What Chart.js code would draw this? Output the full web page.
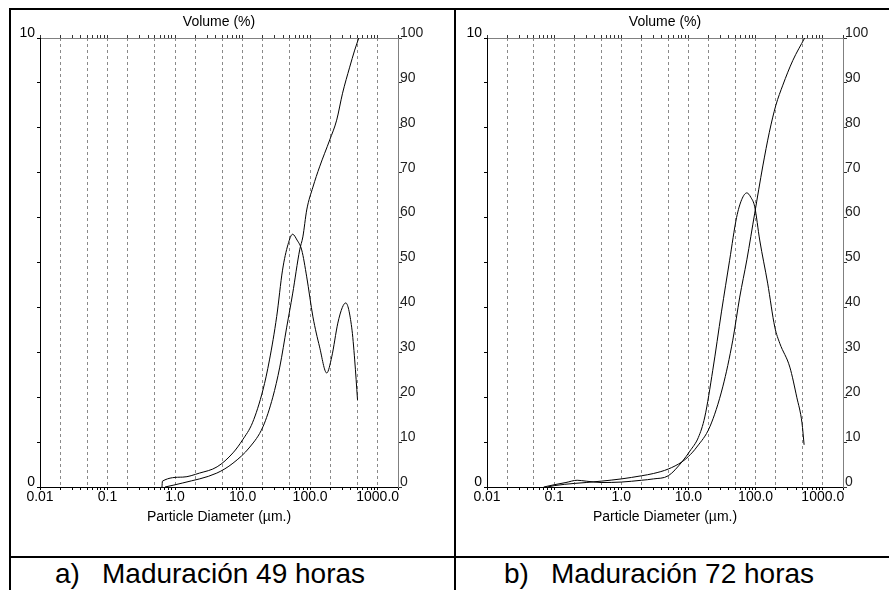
<!DOCTYPE html>
<html>
<head>
<meta charset="utf-8">
<script src="https://cdn.jsdelivr.net/npm/chart.js@4.4.1/dist/chart.umd.min.js"></script>
<style>
  body { margin: 0; width: 889px; height: 590px; overflow: hidden; position: relative; background: #fff;
         font-family: "Liberation Sans", Arial, sans-serif; }
  .ln { position: absolute; background: #000; }
  canvas { position: absolute; }
  .cap { position: absolute; top: 560px; font-size: 28px; line-height: 28px; color: #000; white-space: nowrap; }
</style>
</head>
<body>
<div class="ln" style="left:9px;top:8px;width:880px;height:2px"></div>
<div class="ln" style="left:9px;top:8px;width:2px;height:582px"></div>
<div class="ln" style="left:454px;top:8px;width:2px;height:582px"></div>
<div class="ln" style="left:9px;top:556px;width:880px;height:2px"></div>

<canvas id="chartA" width="443" height="546" style="left:11px;top:10px"></canvas>
<canvas id="chartB" width="432" height="546" style="left:457px;top:10px"></canvas>

<div class="cap" style="left:55px">a)</div>
<div class="cap" style="left:102px">Maduración 49 horas</div>
<div class="cap" style="left:504px">b)</div>
<div class="cap" style="left:551px">Maduración 72 horas</div>

<script>
// x tick labels (particle diameter, log axis)
const xTickVals = [0.01, 0.1, 1, 10, 100, 1000];
const xTickLabels = ['0.01', '0.1', '1.0', '10.0', '100.0', '1000.0'];

// a) Maduración 49 horas
const aFreqD = [0.64, 0.65, 1.3, 2.3, 4.2, 7.2, 10, 14, 20, 25, 32, 39, 47, 55, 64, 75, 89, 110, 138, 176, 209, 257, 300, 337, 412, 457, 503];
const aFreqV = [0, 0.13, 0.22, 0.31, 0.45, 0.76, 1.05, 1.43, 2.16, 2.83, 3.8, 4.83, 5.4, 5.63, 5.5, 5.28, 4.68, 3.79, 3.12, 2.54, 2.9, 3.65, 4.0, 4.1, 3.56, 2.83, 1.94];
const aCumD = [0.71, 1.3, 4.15, 7.2, 12.8, 20, 28, 35.5, 45, 55, 70, 78, 89, 110, 138, 195, 247, 302, 385, 457, 525];
const aCumV = [0, 0.9, 3.1, 5.3, 8.9, 13.4, 20, 26.7, 35.6, 43, 52.8, 55.7, 61.7, 66.8, 71.3, 77.3, 81.7, 87.7, 93.5, 97.3, 100];

// b) Maduración 72 horas
const bFreqD = [0.07, 0.1, 0.15, 0.22, 0.3, 0.5, 1, 2, 3, 5, 8, 10.5, 14, 17.5, 23, 31, 41, 52, 62, 74, 85, 97, 115, 151, 193, 229, 323, 410, 490, 527];
const bFreqV = [0, 0.05, 0.1, 0.15, 0.13, 0.1, 0.11, 0.15, 0.18, 0.25, 0.56, 0.8, 1.1, 1.56, 2.6, 3.9, 5.05, 6.0, 6.4, 6.55, 6.45, 6.24, 5.5, 4.54, 3.56, 3.2, 2.67, 2.0, 1.43, 0.94];
const bCumD = [0.08, 0.1, 0.2, 0.3, 0.5, 1, 2, 3, 5, 8, 10, 13.3, 20.8, 32.4, 45.7, 58, 74, 97, 128, 160, 200, 254, 358, 537];
const bCumV = [0, 0.3, 0.8, 1.0, 1.3, 1.8, 2.5, 3.0, 4.0, 5.6, 6.8, 8.9, 13.4, 22.3, 32.7, 42.3, 50.6, 61, 71.5, 79, 85, 89.5, 95, 100];

const font = { family: '"Liberation Sans", Arial, sans-serif', size: 14, lineHeight: 1 };

// minor ticks 1..9 x 10^n between 0.01 and 2000
function logTicks(scale) {
    const t = [];
    for (let e = -2; e <= 3; e++) {
        for (let m = 1; m <= 9; m++) {
            const v = Number((m * Math.pow(10, e)).toPrecision(6));
            if (v <= 2000) t.push({ value: v });
        }
    }
    t.push({ value: 2000 });
    scale.ticks = t.filter((k, i, arr) => arr.findIndex(o => o.value === k.value) === i);
}

function gridColor(ctx) {
    if (!ctx.tick) return 'transparent';
    const v = ctx.tick.value;
    if (v <= 0.01 || v >= 2000) return 'transparent';
    const m = Math.round(v / Math.pow(10, Math.floor(Math.log10(v) + 1e-9)));
    return (m === 1 || m === 2 || m === 5) ? '#8a8a8a' : 'transparent';
}

function pts(d, v) {
    return d.map((x, i) => ({ x: x, y: v[i] }));
}

function makeChart(id, freqD, freqV, cumD, cumV, leftW, rightW) {
    return new Chart(document.getElementById(id), {
        type: 'line',
        data: {
            datasets: [
                { data: pts(freqD, freqV), yAxisID: 'y', borderColor: '#000', borderWidth: 1,
                  pointRadius: 0, cubicInterpolationMode: 'monotone', fill: false },
                { data: pts(cumD, cumV), yAxisID: 'y2', borderColor: '#000', borderWidth: 1,
                  pointRadius: 0, cubicInterpolationMode: 'monotone', fill: false }
            ]
        },
        options: {
            responsive: false,
            animation: false,
            devicePixelRatio: 1,
            layout: { padding: 0, autoPadding: false },
            plugins: { legend: { display: false }, tooltip: { enabled: false } },
            scales: {
                x: {
                    type: 'logarithmic', position: 'bottom', min: 0.01, max: 2000,
                    afterBuildTicks: logTicks,
                    afterFit: s => { s.height = 69; },
                    ticks: {
                        autoSkip: false, maxRotation: 0, padding: 0, color: '#000', font: font,
                        callback: v => {
                            const i = xTickVals.findIndex(t => Math.abs(t - v) / t < 1e-6);
                            return i >= 0 ? xTickLabels[i] : '';
                        }
                    },
                    grid: { color: gridColor, tickColor: '#000', tickLength: 3, tickBorderDash: [] },
                    border: { color: '#000', dash: [3, 3] },
                    title: { display: true, text: 'Particle Diameter (µm.)', color: '#000', font: font,
                             padding: { top: 0, bottom: 32 } }
                },
                x2: {
                    type: 'logarithmic', position: 'top', min: 0.01, max: 2000,
                    afterBuildTicks: logTicks,
                    afterFit: s => { s.height = 28; },
                    ticks: { display: false },
                    grid: { drawOnChartArea: false, tickColor: '#333', tickLength: 3 },
                    border: { color: '#808080' },
                    title: { display: true, text: 'Volume (%)', color: '#000', font: font,
                             padding: { top: 5, bottom: 0 } }
                },
                y: {
                    type: 'linear', position: 'left', min: 0, max: 10,
                    afterFit: s => { s.width = leftW; },
                    ticks: { stepSize: 1, padding: 2, labelOffset: -5, color: '#000', font: font,
                             callback: v => (v === 0 || v === 10) ? String(v) : '' },
                    grid: { drawOnChartArea: false, tickColor: '#000', tickLength: 3 },
                    border: { color: '#000' }
                },
                y2: {
                    type: 'linear', position: 'right', min: 0, max: 100,
                    afterFit: s => { s.width = rightW; },
                    ticks: { stepSize: 10, padding: -2, labelOffset: -5, color: '#222', font: font },
                    grid: { drawOnChartArea: false, tickColor: '#333', tickLength: 4 },
                    border: { color: '#808080' }
                }
            }
        }
    });
}

makeChart('chartA', aFreqD, aFreqV, aCumD, aCumV, 29, 56);
makeChart('chartB', bFreqD, bFreqV, bCumD, bCumV, 30, 46);
</script>
</body>
</html>
